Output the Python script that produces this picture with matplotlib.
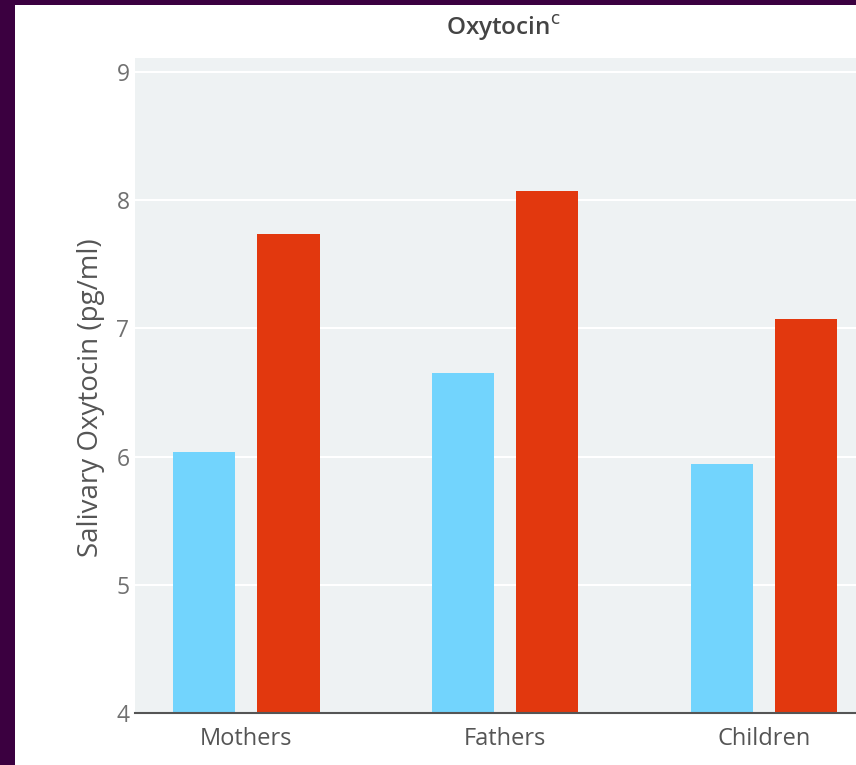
import matplotlib
matplotlib.use("Agg")
import matplotlib.pyplot as plt
import numpy as np
from matplotlib.patches import Rectangle

categories = ["Mothers", "Fathers", "Children"]
group_a = [6.04, 6.65, 5.94]   # light blue
group_b = [7.74, 8.07, 7.07]   # red
yticks = [4, 5, 6, 7, 8, 9]

plt.rcParams['font.family'] = ['Open Sans', 'DejaVu Sans']

fig = plt.figure(figsize=(8.56, 7.65), dpi=100)
fig.patch.set_facecolor('#3b0040')
fig.patches.append(Rectangle((15/856, 0), 1 - 15/856, (765-5)/765,
                             transform=fig.transFigure, facecolor='white',
                             edgecolor='none', zorder=-5))

ax = fig.add_axes([135/856, 52/765, 1 - 135/856, (713-58)/765])
ax.set_facecolor('#eef2f3')

x = np.arange(len(categories))
w = 0.24
off = 0.163
ax.bar(x - off, group_a, w, color='#72d4fd', zorder=3)
ax.bar(x + off, group_b, w, color='#e2380e', zorder=3)

ax.set_ylim(4, 9.11)
ax.set_xlim(-0.43, 2.355)
ax.set_yticks(yticks)
ax.set_yticklabels([str(t) for t in yticks])
ax.set_xticks(x)
ax.set_xticklabels(categories)
ax.yaxis.grid(True, color='white', linewidth=1.5, zorder=1)
ax.set_axisbelow(True)

for s in ['top', 'right', 'left']:
    ax.spines[s].set_visible(False)
ax.spines['bottom'].set_color('#555555')
ax.spines['bottom'].set_linewidth(1.5)
ax.spines['bottom'].set_zorder(4)

ax.tick_params(axis='y', length=0, pad=4, labelsize=16.5, labelcolor='#707070')
ax.tick_params(axis='x', length=0, pad=10, labelsize=17, labelcolor='#555555')

ax.set_ylabel('Salivary Oxytocin (pg/ml)', fontsize=20, color='#555555')
ax.yaxis.set_label_coords(-30/721, 0.482)
fig.text(503/856, 1 - 28/765, r'Oxytocin$^{\mathrm{c}}$', ha='center', va='center',
         fontsize=17.5, fontweight='semibold', color='#444444')

fig.savefig('out.png', dpi=100, facecolor=fig.get_facecolor())
